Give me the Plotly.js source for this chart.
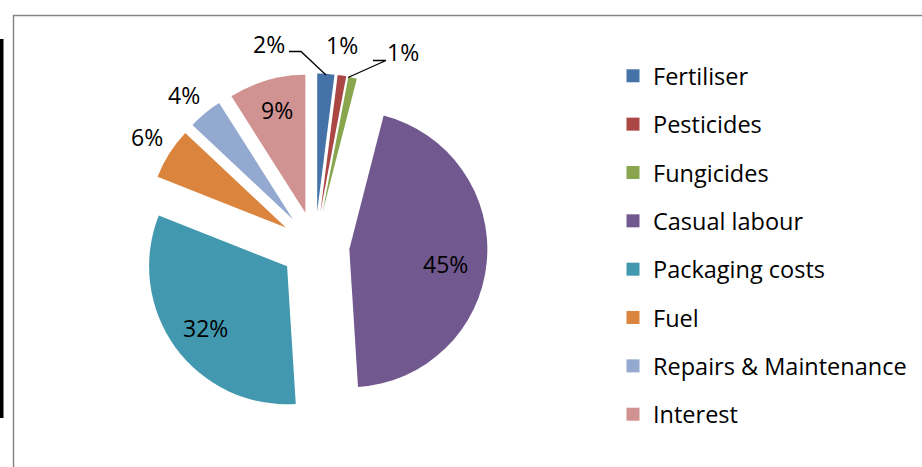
<!DOCTYPE html>
<html>
<head>
<meta charset="utf-8">
<script src="https://cdn.plot.ly/plotly-3.0.1.min.js"></script>
<style>
html,body{margin:0;padding:0;background:#fff;}
#chart{width:922px;height:467px;}
</style>
</head>
<body>
<div id="chart"></div>
<script>
var categories = ["Fertiliser", "Pesticides", "Fungicides", "Casual labour", "Packaging costs", "Fuel", "Repairs & Maintenance", "Interest"];
var shares = [2, 1, 1, 45, 32, 6, 4, 9];
var colors = ["#4572A7", "#AA4643", "#89A54E", "#71588F", "#4198AF", "#DB843D", "#93A9CF", "#D19392"];

// label centres (pixels) as laid out in the reference, one per category
var labelPos = [[269, 44], [342, 45], [403, 52], [445, 264], [205, 328], [147, 137], [184, 95], [277, 110]];
// leader lines (pixels) for the three thin slices: [from text, elbow, slice edge]
var leaders = [
  [[289, 51.5], [301, 51.5], [326, 75]],
  null,
  [[373, 60.5], [386, 60.5], [348, 77.5]]
];

var W = 922, H = 467;
var FONT = "'Open Sans', 'Noto Sans', sans-serif";
function px(x) { return x / W; }
function py(y) { return 1 - y / H; }

var total = shares.reduce(function(a, b) { return a + b; }, 0);

var pie = {
  type: "pie",
  labels: categories,
  values: shares,
  sort: false,
  direction: "clockwise",
  rotation: 0,
  pull: shares.map(function(){ return 0.25; }),
  marker: {colors: colors, line: {width: 0}},
  textinfo: "none",
  domain: {x: [px(142.5), px(487.5)], y: [py(418.5), py(73.5)]},
  showlegend: false,
  hoverinfo: "label+percent"
};

var legendTraces = categories.map(function(name, i) {
  return {
    type: "scatter",
    mode: "markers",
    x: [null], y: [null],
    name: name,
    legendgroup: "g" + i,
    marker: {symbol: "square", size: 13, color: colors[i], line: {width: 0}},
    showlegend: true,
    hoverinfo: "skip"
  };
});

var annotations = shares.map(function(v, i) {
  return {
    xref: "paper", yref: "paper",
    x: px(labelPos[i][0]), y: py(labelPos[i][1]),
    xanchor: "center", yanchor: "middle",
    text: Math.round(100 * v / total) + "%",
    showarrow: false,
    font: {family: FONT, size: 23, color: "#000"}
  };
});

var shapes = [
  {type: "rect", xref: "paper", yref: "paper", x0: px(13.5), x1: 1.05, y0: -0.05, y1: py(15.5),
   line: {color: "#868686", width: 1.5}, fillcolor: "rgba(0,0,0,0)", layer: "below"},
  {type: "rect", xref: "paper", yref: "paper", x0: 0, x1: px(3.5), y0: py(418), y1: py(39),
   line: {width: 0}, fillcolor: "#000"}
];
leaders.forEach(function(l) {
  if (!l) return;
  shapes.push({
    type: "path", xref: "paper", yref: "paper",
    path: "M" + l.map(function(p) { return px(p[0]) + "," + py(p[1]); }).join("L"),
    line: {color: "#000", width: 1.3}
  });
});

var layout = {
  width: W, height: H,
  margin: {l: 0, r: 0, t: 0, b: 0},
  paper_bgcolor: "#fff",
  plot_bgcolor: "#fff",
  font: {family: FONT, size: 23, color: "#000"},
  xaxis: {visible: false, domain: [0.9, 1]},
  yaxis: {visible: false, domain: [0.9, 1]},
  showlegend: true,
  legend: {
    x: px(613), xanchor: "left",
    y: py(54), yanchor: "top",
    font: {family: FONT, size: 23.5, color: "#000"},
    tracegroupgap: 14.8,
    traceorder: "grouped",
    bgcolor: "rgba(0,0,0,0)",
    itemclick: false, itemdoubleclick: false
  },
  annotations: annotations,
  shapes: shapes
};

Plotly.newPlot("chart", [pie].concat(legendTraces), layout, {displayModeBar: false, staticPlot: true});
</script>
</body>
</html>
